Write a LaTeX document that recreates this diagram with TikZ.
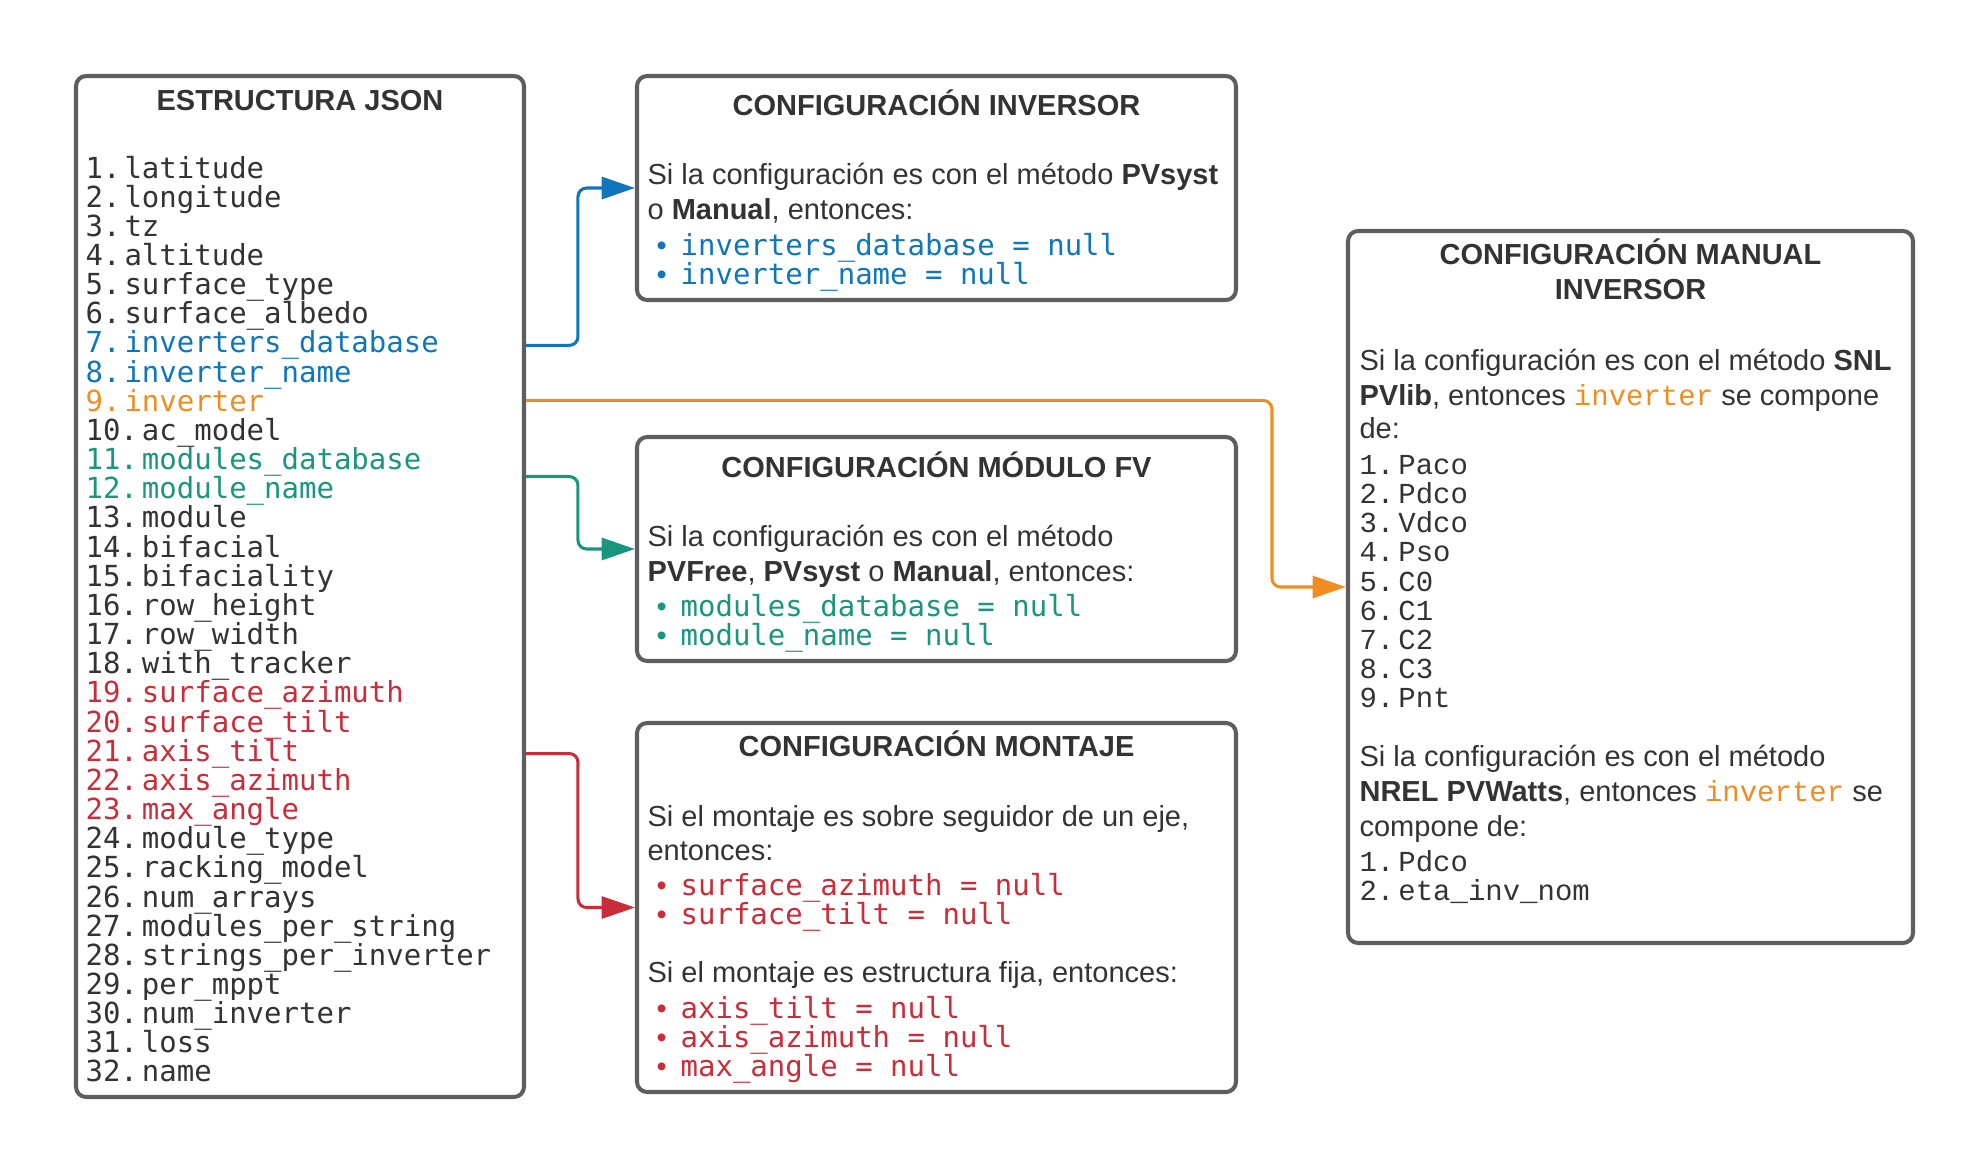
\documentclass[tikz,border=0pt]{standalone}
\usepackage{fontspec}
\setmainfont{Liberation Sans}
\newfontfamily\jsonmono{DejaVu Sans Mono}
\newfontfamily\pvmono{Liberation Mono}
\usetikzlibrary{arrows.meta,calc}

\definecolor{ink}{HTML}{333333}
\definecolor{frame}{HTML}{5E5E5E}
\definecolor{pvblue}{HTML}{1076BB}
\definecolor{pvgreen}{HTML}{19967D}
\definecolor{pvorange}{HTML}{EF8D22}
\definecolor{pvred}{HTML}{C92D39}

\def\px{0.3448pt}

\tikzset{
  panel/.style={draw=frame, line width=1.4pt, rounded corners=3.5pt, inner sep=0pt},
  paneltitle/.style={anchor=base, inner sep=0pt, text=ink, font=\bfseries},
  textline/.style={anchor=base west, inner sep=0pt, text=ink},
  bulletline/.style={anchor=base west, inner sep=0pt},
  jsonitem/.style={anchor=base west, inner sep=0pt, font=\jsonmono},
  pvitem/.style={anchor=base west, inner sep=0pt, text=ink, font=\pvmono},
  link/.style={line width=1.05pt, rounded corners=3pt, -{Triangle[length=11.5pt,width=7.6pt]}}
}

\begin{document}
\begin{tikzpicture}[x=\px, y=-\px]

  % Parameters
  \def\pitch{29.16}     % line pitch of the mono lists
  \def\gap{4.8pt}       % space after a bullet

  \useasboundingbox (0,0) rectangle (1988,1172);

  % Panels
  \node[panel, minimum width=448*\px, minimum height=1021*\px] (json) at (300,586.5) {};
  \node[panel, minimum width=599*\px, minimum height=224*\px] (inv) at (936.5,188) {};
  \node[panel, minimum width=599*\px, minimum height=224*\px] (mod) at (936.5,549) {};
  \node[panel, minimum width=599*\px, minimum height=369*\px] (mont) at (936.5,907.5) {};
  \node[panel, minimum width=565*\px, minimum height=712*\px] (man) at (1630.5,587) {};

  % Titles
  \node[paneltitle] (jsontitle) at (300,110) {ESTRUCTURA JSON};
  \node[paneltitle] (invtitle) at (936.5,115) {CONFIGURACIÓN INVERSOR};
  \node[paneltitle] (modtitle) at (936.5,477) {CONFIGURACIÓN MÓDULO FV};
  \node[paneltitle] (monttitle) at (936.5,756) {CONFIGURACIÓN MONTAJE};
  \node[paneltitle] (mantitle) at (1630.5,264.7) {CONFIGURACIÓN MANUAL};
  \node[paneltitle] (mantitleb) at (1630.5,299.5) {INVERSOR};

  % JSON fields
  \foreach \k/\field/\col in {1/latitude/ink, 2/longitude/ink, 3/tz/ink,
      4/altitude/ink, 5/surface\_type/ink, 6/surface\_albedo/ink,
      7/inverters\_database/pvblue, 8/inverter\_name/pvblue, 9/inverter/pvorange,
      10/ac\_model/ink, 11/modules\_database/pvgreen, 12/module\_name/pvgreen,
      13/module/ink, 14/bifacial/ink, 15/bifaciality/ink, 16/row\_height/ink,
      17/row\_width/ink, 18/with\_tracker/ink, 19/surface\_azimuth/pvred,
      20/surface\_tilt/pvred, 21/axis\_tilt/pvred, 22/axis\_azimuth/pvred,
      23/max\_angle/pvred, 24/module\_type/ink, 25/racking\_model/ink,
      26/num\_arrays/ink, 27/modules\_per\_string/ink,
      28/strings\_per\_inverter/ink, 29/per\_mppt/ink, 30/num\_inverter/ink,
      31/loss/ink, 32/name/ink}
    \node[jsonitem, text=\col] (j\k) at (85,{178+(\k-1)*\pitch}) {\k.\hspace{1.4pt}\field};

  % Inverter panel
  \node[textline] (inv1) at (647,184.4) {Si la configuración es con el método \textbf{PVsyst}};
  \node[textline] (inv2) at (647,219) {o \textbf{Manual}, entonces:};
  \node[bulletline, text=pvblue] (inv3) at (656,255) {\textbullet\hspace{\gap}{\jsonmono inverters\_database = null}};
  \node[bulletline, text=pvblue] (inv4) at (656,284) {\textbullet\hspace{\gap}{\jsonmono inverter\_name = null}};

  % Module panel
  \node[textline] (mod1) at (647,546) {Si la configuración es con el método};
  \node[textline] (mod2) at (647,581) {\textbf{PVFree}, \textbf{PVsyst} o \textbf{Manual}, entonces:};
  \node[bulletline, text=pvgreen] (mod3) at (656,616) {\textbullet\hspace{\gap}{\jsonmono modules\_database = null}};
  \node[bulletline, text=pvgreen] (mod4) at (656,645) {\textbullet\hspace{\gap}{\jsonmono module\_name = null}};

  % Mounting panel
  \node[textline] (mont1) at (647,826) {Si el montaje es sobre seguidor de un eje,};
  \node[textline] (mont2) at (647,860) {entonces:};
  \node[bulletline, text=pvred] (mont3) at (656,895) {\textbullet\hspace{\gap}{\jsonmono surface\_azimuth = null}};
  \node[bulletline, text=pvred] (mont4) at (656,924) {\textbullet\hspace{\gap}{\jsonmono surface\_tilt = null}};
  \node[textline] (mont5) at (647,982.7) {Si el montaje es estructura fija, entonces:};
  \node[bulletline, text=pvred] (mont6) at (656,1018) {\textbullet\hspace{\gap}{\jsonmono axis\_tilt = null}};
  \node[bulletline, text=pvred] (mont7) at (656,1047) {\textbullet\hspace{\gap}{\jsonmono axis\_azimuth = null}};
  \node[bulletline, text=pvred] (mont8) at (656,1076) {\textbullet\hspace{\gap}{\jsonmono max\_angle = null}};

  % Manual inverter panel
  \node[textline] (man1) at (1359,370.6) {Si la configuración es con el método \textbf{SNL}};
  \node[textline] (man2) at (1359,405) {\textbf{PVlib}, entonces {\pvmono\color{pvorange}inverter} se compone};
  \node[textline] (man3) at (1359,438.8) {de:};
  \foreach \k/\field in {1/Paco, 2/Pdco, 3/Vdco, 4/Pso, 5/C0, 6/C1, 7/C2, 8/C3, 9/Pnt}
    \node[pvitem] (snl\k) at (1359,{474.6+(\k-1)*29.1}) {\k.\hspace{1.4pt}\field};
  \node[textline] (man4) at (1359,766) {Si la configuración es con el método};
  \node[textline] (man5) at (1359,801) {\textbf{NREL PVWatts}, entonces {\pvmono\color{pvorange}inverter} se};
  \node[textline] (man6) at (1359,836) {compone de:};
  \foreach \k/\field in {1/Pdco, 2/eta\_inv\_nom}
    \node[pvitem] (nrel\k) at (1359,{871.6+(\k-1)*28.9}) {\k.\hspace{1.4pt}\field};

  % Connectors
  \coordinate (jmod) at ($(j11.center)!0.5!(j12.center)$); % between the two module fields
  \draw[link, pvblue] (json.east |- j7.center) -| ([xshift=-57*\px]inv.west) -- (inv.west);
  \draw[link, pvorange] (json.east |- j9.center) -| ([xshift=-74*\px]man.west) -- (man.west);
  \draw[link, pvgreen] (json.east |- jmod) -| ([xshift=-57*\px]mod.west) -- (mod.west);
  \draw[link, pvred] (json.east |- j21.center) -| ([xshift=-57*\px]mont.west) -- (mont.west);

\end{tikzpicture}
\end{document}
